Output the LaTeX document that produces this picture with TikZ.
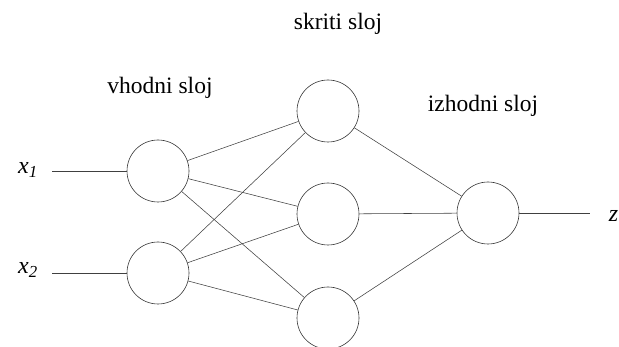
\documentclass[tikz,border=0pt]{standalone}
\usepackage{fontspec}
\setmainfont{Liberation Serif}
\begin{document}
\begin{tikzpicture}[x=1pt,y=-1pt,
  neuron/.style={draw=black!80,circle,minimum size=62pt,inner sep=0pt,line width=0.6pt},
  conn/.style={draw=black!75,line width=0.55pt},
  lbl/.style={font=\fontsize{23.5}{26}\selectfont,inner sep=0pt},
  var/.style={font=\fontsize{24}{26}\selectfont\itshape,inner sep=0pt}]
\useasboundingbox (0,0) rectangle (619,347);
\node[neuron] (i1) at (158,171) {};
\node[neuron] (i2) at (158,273) {};
\node[neuron] (h1) at (328,111) {};
\node[neuron] (h2) at (328,214) {};
\node[neuron] (h3) at (328,318) {};
\node[neuron] (o) at (488,213) {};
\coordinate (in1) at (52,171);
\coordinate (in2) at (52,273);
\coordinate (out) at (590,213);
\node[var] (x1) at (28,170) {x\textsubscript{1}};
\node[var] (x2) at (28,270) {x\textsubscript{2}};
\node[var,anchor=east] (z) at (618.5,216) {z};
\node[lbl] (t1) at (338,24) {skriti sloj};
\node[lbl] (t2) at (160,88) {vhodni sloj};
\node[lbl] (t3) at (483,106) {izhodni sloj};
\draw[conn] (in1) -- (i1);
\draw[conn] (in2) -- (i2);
\foreach \a in {i1,i2}{\foreach \b in {h1,h2,h3}{\draw[conn] (\a) -- (\b);}}
\foreach \b in {h1,h2,h3}{\draw[conn] (\b) -- (o);}
\draw[conn] (o) -- (out);
\end{tikzpicture}
\end{document}
